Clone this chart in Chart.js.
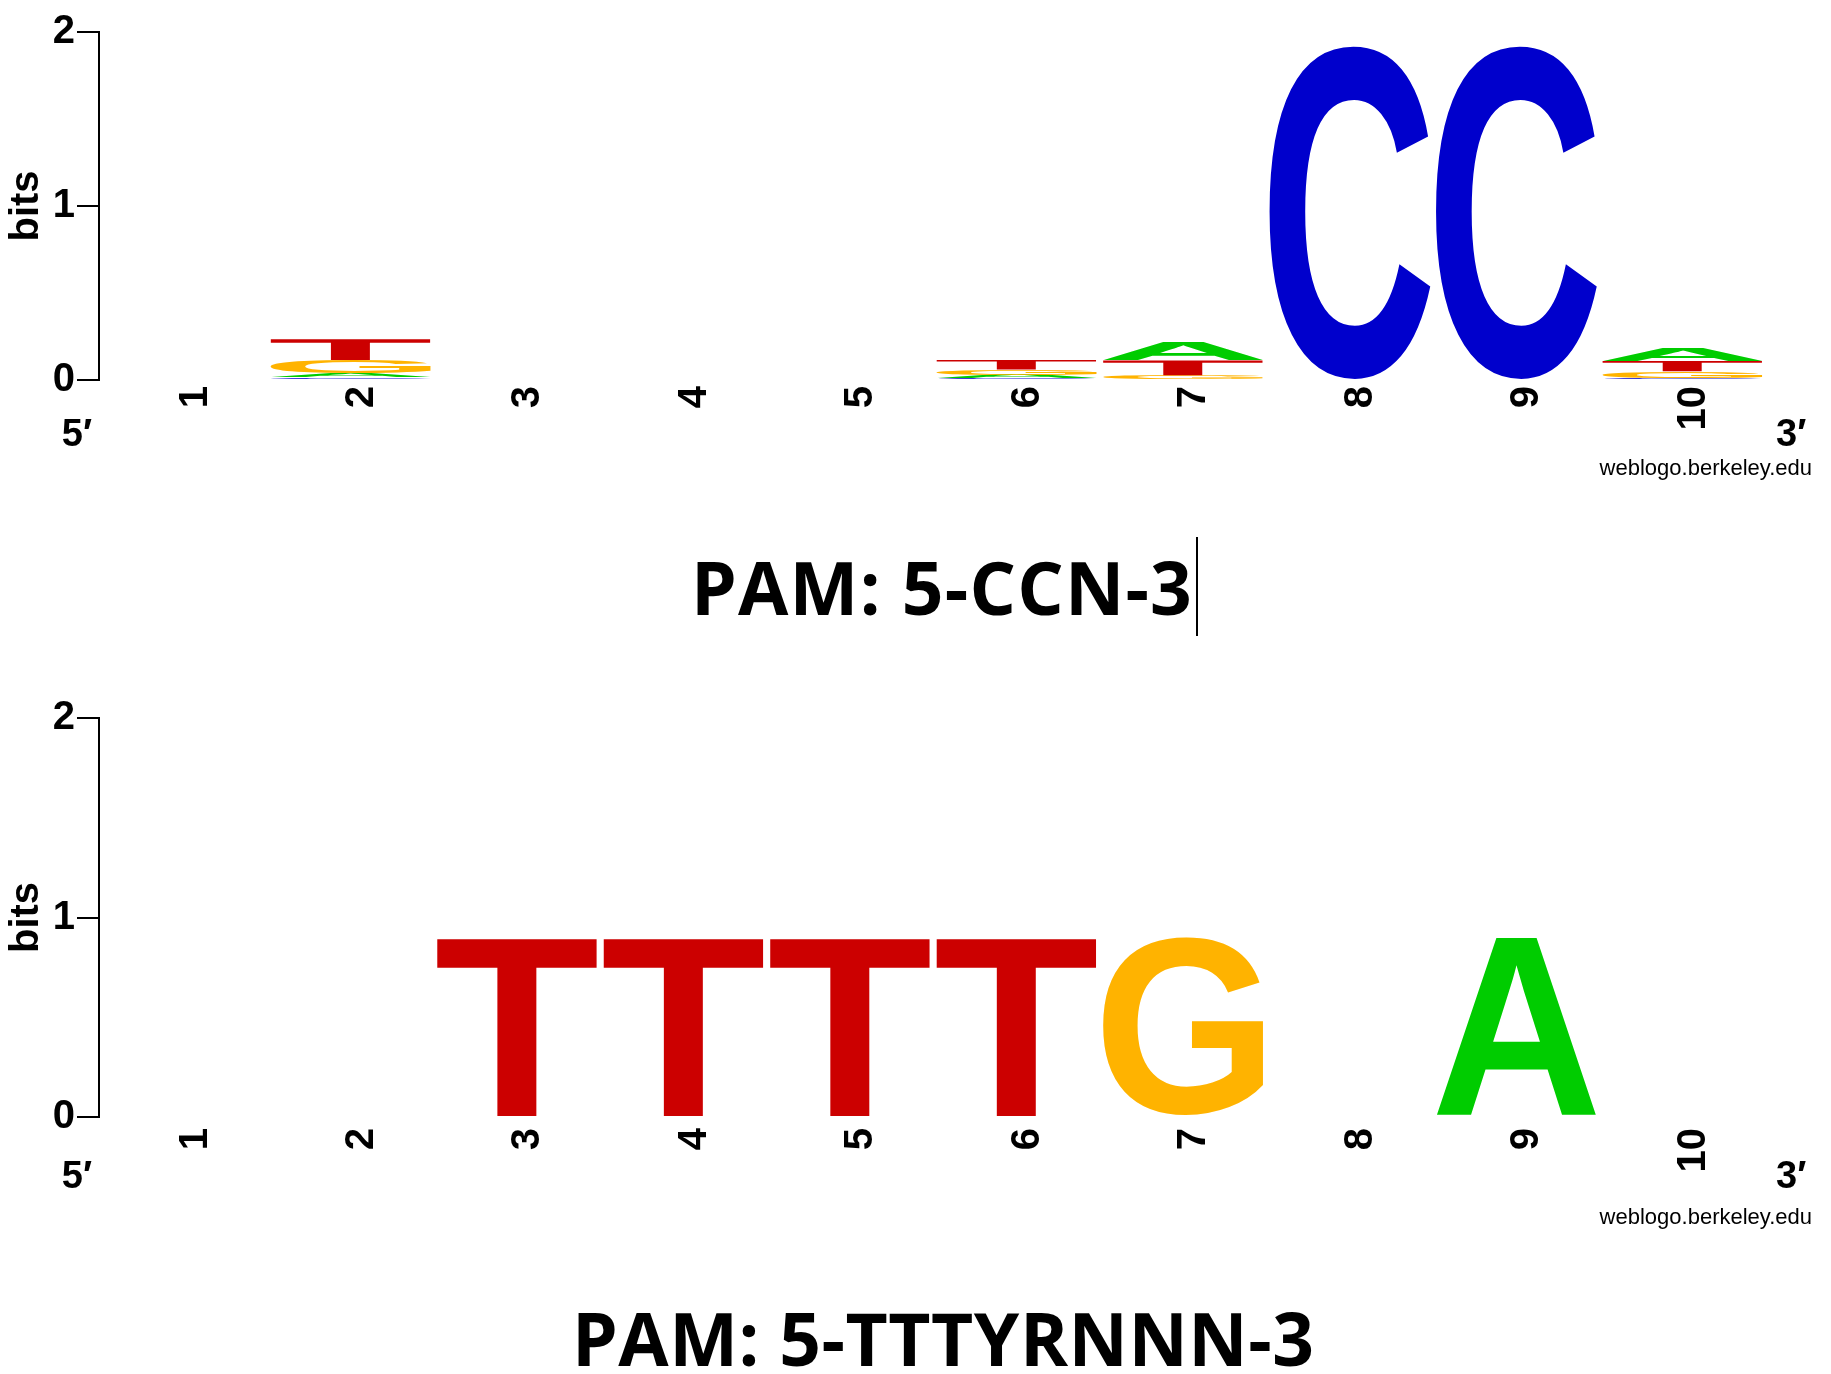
<!DOCTYPE html>
<html>
<head>
<meta charset="utf-8">
<title>PAM sequence logos</title>
<script src="https://cdn.jsdelivr.net/npm/chart.js@4.4.0/dist/chart.umd.min.js"></script>
<style>
  html, body { margin: 0; padding: 0; background: #fff; }
  body { width: 1831px; height: 1374px; position: relative; overflow: hidden; }
  .panel { position: absolute; left: 0; width: 1831px; }
  #topPanel { top: 0; height: 500px; }
  #bottomPanel { top: 640px; height: 620px; }
  .pam {
    position: absolute;
    font-family: "Open Sans", "Noto Sans", sans-serif;
    font-weight: 700;
    font-size: 73px;
    line-height: 100px;
    white-space: nowrap;
    color: #000;
  }
  .caret { border-left: 2px solid #000; margin-left: 3px; }
</style>
</head>
<body>
<div class="panel" id="topPanel"><canvas id="logoTop"></canvas></div>
<div class="pam" style="left:691px; top:537px; letter-spacing:1.2px;">PAM: 5-CCN-3<span class="caret"></span></div>
<div class="panel" id="bottomPanel"><canvas id="logoBottom"></canvas></div>
<div class="pam" style="left:572px; top:1288px; letter-spacing:0.5px;">PAM: 5-TTTYRNNN-3</div>

<script>
// positions along the motif and their tick labels
const positions = [1, 2, 3, 4, 5, 6, 7, 8, 9, 10];
const tickLabels = ['1', '2', '3', '4', '5', '6', '7', '8', '9', '10'];
const bitTicks = [0, 1, 2];

// top logo (PAM: 5-CCN-3), bits per base
const ccnA = [0, 0.025, 0, 0, 0, 0.02, 0.10, 0, 0, 0.07];
const ccnC = [0, 0.015, 0, 0, 0, 0.01, 0.008, 1.92, 1.92, 0.01];
const ccnG = [0, 0.075, 0, 0, 0, 0.03, 0.02, 0, 0, 0.04];
const ccnT = [0, 0.12, 0, 0, 0, 0.055, 0.085, 0, 0, 0.06];

// bottom logo (PAM: 5-TTTYRNNN-3)
const tttA = [0, 0, 0, 0, 0, 0, 0, 0, 0.9, 0];
const tttC = [0, 0, 0, 0, 0, 0, 0, 0, 0, 0];
const tttG = [0, 0, 0, 0, 0, 0, 0.9, 0, 0, 0];
const tttT = [0, 0, 0.9, 0.9, 0.9, 0.9, 0, 0, 0, 0];

const bases = ['A', 'C', 'G', 'T'];
const baseColors = { A: '#00CC00', C: '#0000CC', G: '#FFB300', T: '#CC0000' };
const helv = '"Liberation Sans", Arial, Helvetica, sans-serif';

// one dataset per stacking rank, smallest letter at the bottom of each column
function stackDatasets(series) {
  let ranks = [[], [], [], []];
  positions.forEach((p, i) => {
    let col = bases.map(b => ({ b: b, h: series[b][i] })).sort((a, c) => a.h - c.h);
    col.forEach((c, r) => ranks[r].push({ x: p, y: c.h, letter: c.b }));
  });
  return ranks.map(data => ({
    data: data,
    backgroundColor: 'rgba(0,0,0,0)',
    borderWidth: 0,
    barPercentage: 0.967,
    categoryPercentage: 1
  }));
}

function drawGlyph(ctx, ch, color, left, top, w, h) {
  ctx.save();
  ctx.font = 'bold 200px ' + helv;
  ctx.textAlign = 'left';
  ctx.textBaseline = 'alphabetic';
  let m = ctx.measureText(ch);
  let gw = m.actualBoundingBoxLeft + m.actualBoundingBoxRight;
  let gh = m.actualBoundingBoxAscent + m.actualBoundingBoxDescent;
  ctx.translate(left, top);
  ctx.scale(w / gw, h / gh);
  ctx.fillStyle = color;
  ctx.fillText(ch, m.actualBoundingBoxLeft, m.actualBoundingBoxAscent);
  ctx.restore();
}

// stretches a letter into every stacked bar
const logoPlugin = {
  id: 'logo',
  afterDatasetsDraw(chart) {
    let ctx = chart.ctx;
    chart.data.datasets.forEach((ds, d) => {
      chart.getDatasetMeta(d).data.forEach((bar, i) => {
        let p = bar.getProps(['x', 'y', 'base', 'width'], true);
        let h = p.base - p.y;
        if (h < 0.5) return;
        let letter = ds.data[i].letter;
        drawGlyph(ctx, letter, baseColors[letter], p.x - p.width / 2, p.y, p.width, h);
      });
    });
  }
};

const extrasPlugin = {
  id: 'extras',
  afterDraw(chart, args, opts) {
    let ctx = chart.ctx;
    let bottom = chart.chartArea.bottom;
    ctx.save();
    ctx.fillStyle = '#000';
    ctx.textBaseline = 'alphabetic';
    ctx.font = 'bold 38px ' + helv;
    ctx.textAlign = 'right';
    ctx.fillText('5\u2032', 92, bottom + opts.primeY);
    ctx.textAlign = 'left';
    ctx.fillText('3\u2032', 1776, bottom + opts.primeY);
    ctx.font = '22px ' + helv;
    ctx.textAlign = 'right';
    ctx.fillText('weblogo.berkeley.edu', 1812, bottom + opts.siteY);
    ctx.restore();
  }
};

function makeLogo(id, series, cfg) {
  let tickFont = { family: helv, size: 40, weight: 'bold' };
  return new Chart(document.getElementById(id), {
    type: 'bar',
    data: { datasets: stackDatasets(series) },
    options: {
      responsive: true,
      maintainAspectRatio: false,
      animation: false,
      layout: { padding: { top: cfg.top, right: 65, left: 0, bottom: 0 } },
      plugins: {
        legend: { display: false },
        tooltip: { enabled: false },
        extras: { primeY: cfg.primeY, siteY: cfg.siteY }
      },
      scales: {
        x: {
          type: 'linear',
          stacked: true,
          min: 0.4865,
          max: 10.5,
          offset: false,
          grid: { display: false, offset: false },
          border: { display: false },
          afterFit: s => { s.height = cfg.xHeight; },
          ticks: {
            stepSize: 1,
            includeBounds: false,
            autoSkip: false,
            minRotation: 90,
            maxRotation: 90,
            labelOffset: 11,
            padding: cfg.tickPad,
            color: '#000',
            font: tickFont,
            callback: v => {
              let k = positions.indexOf(v);
              return k < 0 ? '' : tickLabels[k];
            }
          }
        },
        y: {
          stacked: true,
          min: 0,
          max: 2,
          afterBuildTicks: s => { s.ticks = bitTicks.map(v => ({ value: v })); },
          afterFit: s => { s.width = 99; },
          border: { display: true, color: '#000', width: 2 },
          grid: { drawOnChartArea: false, color: '#000', lineWidth: 2, tickLength: 22 },
          ticks: { color: '#000', font: tickFont, padding: 2 },
          title: {
            display: true,
            text: 'bits',
            color: '#000',
            font: tickFont,
            padding: { top: 3, bottom: 0 }
          }
        }
      }
    },
    plugins: [logoPlugin, extrasPlugin]
  });
}

makeLogo('logoTop', { A: ccnA, C: ccnC, G: ccnG, T: ccnT },
  { top: 32, xHeight: 120, tickPad: -2, primeY: 66, siteY: 95 });
makeLogo('logoBottom', { A: tttA, C: tttC, G: tttG, T: tttT },
  { top: 78, xHeight: 143, tickPad: 3, primeY: 71, siteY: 107 });
</script>
</body>
</html>
